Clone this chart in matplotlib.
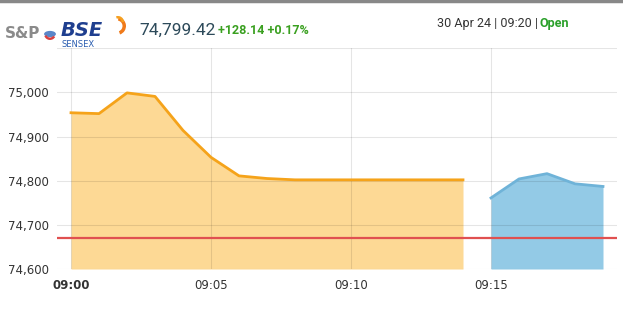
import matplotlib.pyplot as plt
from matplotlib.patches import Circle, Wedge

# minutes after 09:00
minutes_a = [0, 1, 2, 3, 4, 5, 6, 7, 8, 9, 10, 11, 12, 13, 14]
values_a = [74954, 74952, 74999, 74991, 74914, 74853, 74811, 74805,
            74802, 74802, 74802, 74802, 74802, 74802, 74802]
minutes_b = [15, 16, 17, 18, 19]
values_b = [74761, 74804, 74816, 74793, 74787]
prev_close = 74671.28

x_ticks = [0, 5, 10, 15]
x_labels = ['09:00', '09:05', '09:10', '09:15']
y_ticks = [74600, 74700, 74800, 74900, 75000, 75100]
y_labels = ['74,600', '74,700', '74,800', '74,900', '75,000', '']

W, H = 623, 327
fig = plt.figure(figsize=(W / 100, H / 100), dpi=100)
ax = fig.add_axes([57 / W, (H - 269) / H, (617 - 57) / W, (269 - 48.3) / H])

ymin = 74600
ax.fill_between(minutes_a, values_a, ymin, color='#fdd995', lw=0, zorder=1)
ax.plot(minutes_a, values_a, color='#f5a31a', lw=2, zorder=3)
ax.fill_between(minutes_b, values_b, ymin, color='#93cae6', lw=0, zorder=1)
ax.plot(minutes_b, values_b, color='#6fb3d8', lw=2, zorder=3)
ax.axhline(prev_close, color='#e05050', lw=1.6, zorder=4)

ax.set_xlim(-0.5, 19.5)
ax.set_ylim(74600, 75100)
ax.set_xticks(x_ticks)
ax.set_xticklabels(x_labels)
ax.get_xticklabels()[0].set_fontweight('bold')
ax.set_yticks(y_ticks)
ax.set_yticklabels(y_labels)
ax.set_axisbelow(False)
ax.grid(True, color='black', alpha=0.1, lw=0.8, zorder=2)
for s in ax.spines.values():
    s.set_visible(False)
ax.tick_params(length=0, labelsize=8.5, colors='#333333', pad=6)
ax.tick_params(axis='x', pad=7)

# top gray bar
fig.add_artist(plt.Line2D([0, 1], [1 - 1 / H, 1 - 1 / H], color='#888888', lw=2.5))

# header: logo
fig.text(5 / W, 1 - 34 / H, 'S&P', fontsize=11, fontweight='bold', color='#8a8a8a',
         fontfamily='DejaVu Sans', va='center')
fig.add_artist(Circle((50 / W, 1 - 34 / H), 0.0095, transform=fig.transFigure,
                      facecolor='#5a86c8', edgecolor='none'))
fig.add_artist(Wedge((50, H - 34), 6, 200, 330, width=2.5, transform=None,
                     facecolor='#d84040', edgecolor='none'))
fig.text(61 / W, 1 - 30 / H, 'BSE', fontsize=14, fontweight='bold', fontstyle='italic',
         color='#1f3f8f', fontfamily='DejaVu Sans', va='center')
fig.text(62 / W, 1 - 44.5 / H, 'SENSEX', fontsize=6, color='#2a5db0',
         fontfamily='DejaVu Sans', va='center')
fig.add_artist(Wedge((117, H - 26), 9, -70, 80, width=3.5, transform=None,
                     facecolor='#f07a1a', edgecolor='none'))
fig.add_artist(Wedge((118, H - 22), 6, 0, 110, width=2.5, transform=None,
                     facecolor='#f5a020', edgecolor='none'))

# header: price
fig.text(139 / W, 1 - 30 / H, '74,799.42', fontsize=12.5, color='#2d4a5a',
         fontfamily='Roboto', va='center')
fig.text(218 / W, 1 - 31 / H, '+128.14 +0.17%', fontsize=9, fontweight='bold',
         color='#3aa020', fontfamily='Roboto', va='center')
fig.text(437 / W, 1 - 24 / H, '30 Apr 24 | 09:20 |', fontsize=9, color='#333333',
         fontfamily='Roboto', va='center')
fig.text(540 / W, 1 - 24 / H, 'Open', fontsize=9, fontweight='bold', color='#2aa02a',
         fontfamily='Roboto', va='center')

fig.savefig('out.png', dpi=100)
